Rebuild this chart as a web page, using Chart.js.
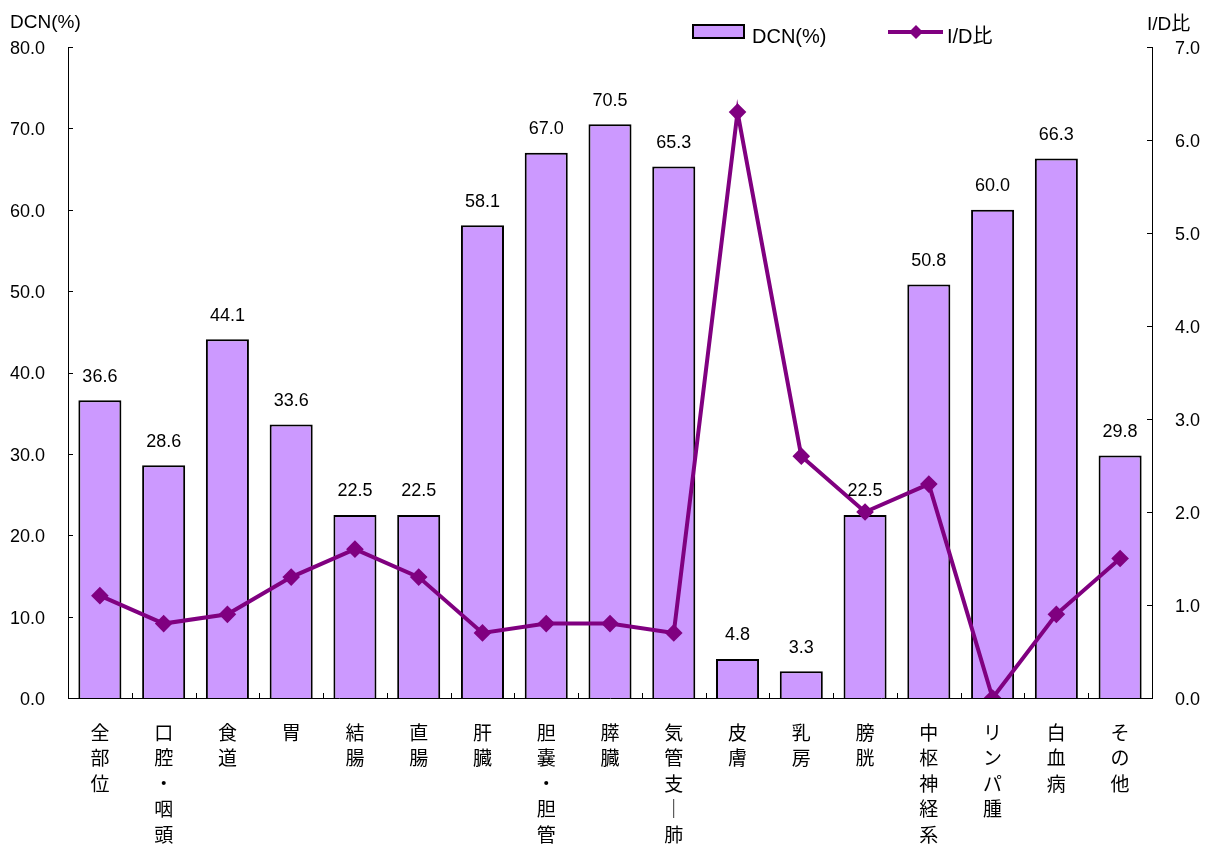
<!DOCTYPE html>
<html>
<head>
<meta charset="utf-8">
<script src="https://cdn.jsdelivr.net/npm/chart.js@4"></script>
<style>
  html, body { margin: 0; padding: 0; background: #fff; }
  #wrap { width: 1216px; height: 846px; }
</style>
</head>
<body>
<div id="wrap"><canvas id="chart" width="1216" height="846"></canvas></div>
<script>
// 部位名（縦書きなので1文字ずつ配列にする）
const sites = ['全部位', '口腔・咽頭', '食道', '胃', '結腸', '直腸', '肝臓', '胆嚢・胆管', '膵臓',
               '気管支｜肺', '皮膚', '乳房', '膀胱', '中枢神経系', 'リンパ腫', '白血病', 'その他'];
const dcnValues = [36.6, 28.6, 44.1, 33.6, 22.5, 22.5, 58.1, 67.0, 70.5, 65.3, 4.8, 3.3, 22.5, 50.8, 60.0, 66.3, 29.8];
const idRatio = [1.1, 0.8, 0.9, 1.3, 1.6, 1.3, 0.7, 0.8, 0.8, 0.7, 6.3, 2.6, 2.0, 2.3, 0.0, 0.9, 1.5];
const leftTicks = [0, 10, 20, 30, 40, 50, 60, 70, 80];
const rightTicks = [0, 1, 2, 3, 4, 5, 6, 7];

const FONT = '"Liberation Sans", "Noto Sans CJK JP", sans-serif';
const JP_FONT = '"Noto Sans CJK JP", sans-serif';
const BAR_COLOR = '#CC99FF';
const LINE_COLOR = '#800080';

// 内向きの目盛り線、軸タイトル、凡例、データラベルを描く
const extrasPlugin = {
    id: 'extras',
    afterDatasetsDraw(chart) {
        const ctx = chart.ctx;
        const area = chart.chartArea;
        const yL = chart.scales.y;
        const yR = chart.scales.y2;
        const x = chart.scales.x;

        ctx.save();
        ctx.strokeStyle = '#000';
        ctx.lineWidth = 1;
        ctx.beginPath();
        yL.ticks.forEach((t, i) => {
            const py = Math.round(yL.getPixelForTick(i)) + 0.5;
            ctx.moveTo(area.left, py);
            ctx.lineTo(area.left + 5, py);
        });
        yR.ticks.forEach((t, i) => {
            const py = Math.round(yR.getPixelForTick(i)) + 0.5;
            ctx.moveTo(area.right - 5, py);
            ctx.lineTo(area.right, py);
        });
        const half = (x.getPixelForTick(1) - x.getPixelForTick(0)) / 2;
        for (let i = 0; i <= sites.length; i++) {
            const px = Math.round(x.getPixelForTick(Math.min(i, sites.length - 1)) + (i === sites.length ? half : -half)) + 0.5;
            ctx.moveTo(px, area.bottom);
            ctx.lineTo(px, area.bottom - 5);
        }
        ctx.stroke();

        // データラベル
        const barMeta = chart.getDatasetMeta(1);
        ctx.fillStyle = '#000';
        ctx.font = '18px ' + FONT;
        ctx.textAlign = 'center';
        ctx.textBaseline = 'middle';
        barMeta.data.forEach((bar, i) => {
            ctx.fillText(dcnValues[i].toFixed(1), bar.x, bar.y - 23.5);
        });

        // 軸タイトル
        ctx.font = '19px ' + FONT;
        ctx.textAlign = 'left';
        ctx.fillText('DCN(%)', 10, 23);
        ctx.fillText('I/D比', 1147, 25);

        // 凡例
        ctx.fillStyle = BAR_COLOR;
        ctx.fillRect(693, 25, 51, 13);
        ctx.lineWidth = 2;
        ctx.strokeRect(693, 25, 51, 13);
        ctx.fillStyle = '#000';
        ctx.font = '20px ' + FONT;
        ctx.fillText('DCN(%)', 752, 37);

        ctx.strokeStyle = LINE_COLOR;
        ctx.lineWidth = 4;
        ctx.beginPath();
        ctx.moveTo(888, 32);
        ctx.lineTo(943, 32);
        ctx.stroke();
        ctx.fillStyle = LINE_COLOR;
        ctx.beginPath();
        ctx.moveTo(916, 25);
        ctx.lineTo(923, 32);
        ctx.lineTo(916, 39);
        ctx.lineTo(909, 32);
        ctx.closePath();
        ctx.fill();
        ctx.fillStyle = '#000';
        ctx.fillText('I/D比', 947, 37);
        ctx.restore();
    }
};

const ctx = document.getElementById('chart').getContext('2d');
new Chart(ctx, {
    data: {
        labels: sites.map(s => s.split('')),
        datasets: [
            {
                type: 'line',
                label: 'I/D比',
                data: idRatio,
                yAxisID: 'y2',
                borderColor: LINE_COLOR,
                backgroundColor: LINE_COLOR,
                borderWidth: 4,
                pointStyle: 'rectRot',
                pointRadius: 6,
                tension: 0,
                order: 0
            },
            {
                type: 'bar',
                label: 'DCN(%)',
                data: dcnValues,
                yAxisID: 'y',
                backgroundColor: BAR_COLOR,
                borderColor: '#000',
                borderWidth: 2,
                barPercentage: 0.675,
                categoryPercentage: 1.0,
                order: 1
            }
        ]
    },
    options: {
        responsive: false,
        animation: false,
        layout: { padding: { top: 47, left: 0, right: 0, bottom: 0 } },
        plugins: {
            legend: { display: false },
            tooltip: { enabled: false }
        },
        scales: {
            x: {
                grid: { display: false, drawTicks: false },
                border: { display: true, color: '#000', width: 1 },
                ticks: {
                    color: '#000',
                    autoSkip: false,
                    maxRotation: 0,
                    padding: 22,
                    font: { family: JP_FONT, size: 19, lineHeight: 1.34 }
                },
                afterFit(scale) { scale.height = 148; }
            },
            y: {
                position: 'left',
                min: 0,
                max: 80,
                afterBuildTicks(scale) { scale.ticks = leftTicks.map(v => ({ value: v })); },
                grid: { display: false, drawTicks: false },
                border: { display: true, color: '#000', width: 1 },
                ticks: {
                    color: '#000',
                    padding: 23,
                    labelOffset: 2,
                    font: { family: FONT, size: 18 },
                    callback: v => v.toFixed(1)
                },
                afterFit(scale) { scale.width = 68; }
            },
            y2: {
                position: 'right',
                min: 0,
                max: 7,
                afterBuildTicks(scale) { scale.ticks = rightTicks.map(v => ({ value: v })); },
                grid: { display: false, drawTicks: false },
                border: { display: true, color: '#000', width: 1 },
                ticks: {
                    color: '#000',
                    padding: 23,
                    labelOffset: 2,
                    font: { family: FONT, size: 18 },
                    callback: v => v.toFixed(1)
                },
                afterFit(scale) { scale.width = 64; }
            }
        }
    },
    plugins: [extrasPlugin]
});
</script>
</body>
</html>
